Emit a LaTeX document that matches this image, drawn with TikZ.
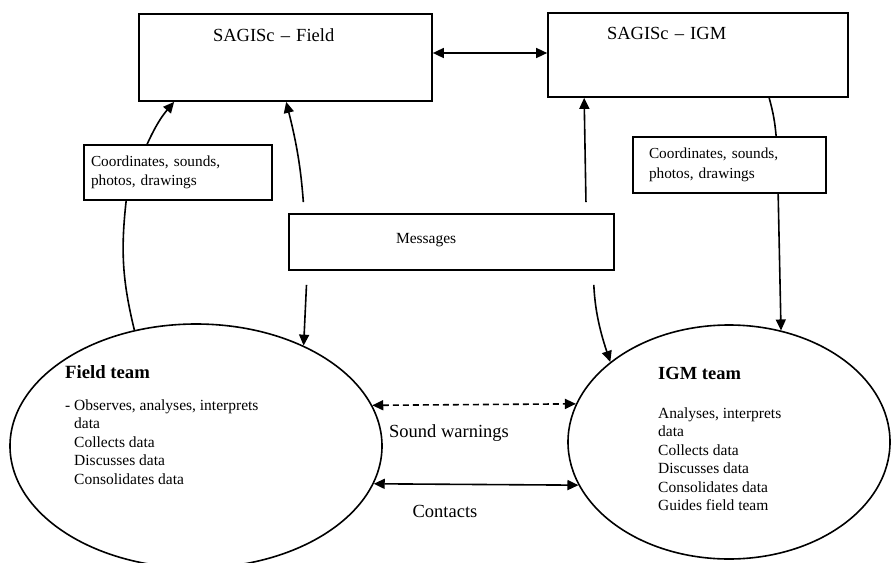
\documentclass[tikz,border=0pt]{standalone}
\usepackage{fontspec}
\setmainfont{Liberation Serif}
\usepackage{tikz}
\usetikzlibrary{shapes.geometric,arrows.meta,positioning}

\begin{document}
\begin{tikzpicture}[
    x=1pt, y=-1pt,
    font=\fontsize{15.5}{18.5}\selectfont,
    sysbox/.style={draw, line width=1.7pt, inner ysep=0pt, align=left},
    infobox/.style={draw, line width=1.7pt, fill=white, align=left, inner ysep=0pt, font=\fontsize{15.3}{19.5}\selectfont},
    team/.style={draw, ellipse, line width=1.6pt, inner sep=0pt},
    teamtext/.style={anchor=north west, inner sep=0pt, align=left},
    biglabel/.style={font=\fontsize{18.5}{22}\selectfont},
    arrow/.style={->, >={Triangle[length=11pt,width=10pt]}, line width=1.6pt},
    link/.style={line width=1.6pt}
]
    \useasboundingbox (0,0) rectangle (891,562);

    % systems
    \node[sysbox, biglabel, inner xsep=74pt, text width=145pt, text height=27pt, text depth=60pt] (sfield) at (285.5,57.5) {SAGISc – Field};
    \node[sysbox, biglabel, inner xsep=59pt, text width=182pt, text height=26pt, text depth=58pt] (sigm) at (698,55) {SAGISc – IGM};
    \node[sysbox, inner xsep=107pt, text width=111pt, text height=29pt, text depth=27pt] (msg) at (451.5,242) {Messages};

    % data boxes
    \node[infobox, inner xsep=7pt, text width=174pt, minimum height=55pt] (lbox) at (178,172.5) {Coordinates, sounds,\\photos, drawings};
    \node[infobox, inner xsep=16pt, text width=161pt, minimum height=56pt] (rbox) at (729.5,165) {Coordinates, sounds,\\photos, drawings};

    % teams
    \node[team, minimum width=372pt, minimum height=244pt] (fieldteam) at (196,446) {};
    \node[team, minimum width=322pt, minimum height=234pt] (igmteam) at (729,442) {};
    \node[teamtext] (fieldtxt) at (65,365) {{\bfseries\fontsize{18.7}{18.5}\selectfont Field team}\\[13.5pt]
        - Observes, analyses, interprets\\
        \phantom{- }data\\
        \phantom{- }Collects data\\
        \phantom{- }Discusses data\\
        \phantom{- }Consolidates data};
    \node[teamtext] (igmtxt) at (658,367) {{\bfseries\fontsize{18.5}{18.5}\selectfont IGM team}\\[20.5pt]
        Analyses, interprets\\
        data\\
        Collects data\\
        Discusses data\\
        Consolidates data\\
        Guides field team};

    \node[biglabel] (sound) at (449,433) {Sound warnings};
    \node[biglabel] (contacts) at (445,511) {Contacts};

    % connectors
    \draw[arrow, <->] ([yshift=4.5pt]sfield.east) -- ([yshift=2pt]sigm.west);
    \draw[link] (fieldteam.118.5) to[bend left=10] ([xshift=43pt]lbox.south west);
    \draw[arrow] ([xshift=64pt]lbox.north west) to[bend left=8] ([xshift=36pt]sfield.south west);
    \draw[arrow, shorten <=11pt] ([xshift=16pt]msg.north west) to[bend right=5] ([xshift=148pt]sfield.south west);
    \draw[arrow, shorten <=14pt] ([xshift=19pt]msg.south west) -- (fieldteam.43.4);
    \draw[arrow, shorten <=11pt] ([xshift=298pt]msg.north west) -- ([xshift=37pt]sigm.south west);
    \draw[arrow, shorten <=14pt] ([xshift=305pt]msg.south west) to[bend right=8] (igmteam.146.7);
    \draw[link] ([xshift=222pt]sigm.south west) to[bend left=5] ([xshift=144pt]rbox.north west);
    \draw[arrow] ([xshift=146pt]rbox.south west) -- (igmteam.65.3);
    \draw[arrow, <->, dash pattern=on 6pt off 4pt] (fieldteam.13.2) -- (igmteam.166.4);
    \draw[arrow, <->] (fieldteam.-12.1) -- (igmteam.-164);

\end{tikzpicture}
\end{document}
